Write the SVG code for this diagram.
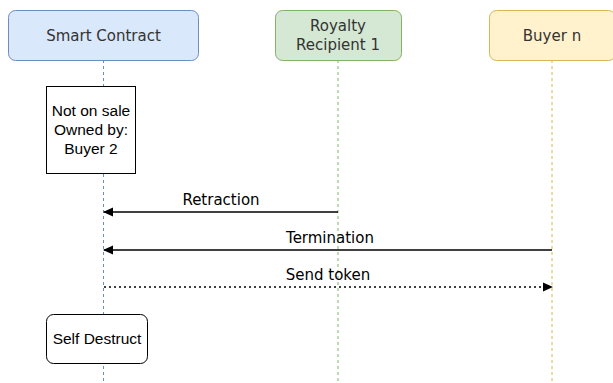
<svg xmlns="http://www.w3.org/2000/svg" width="613" height="383" viewBox="0 0 613 383">
<defs>
<marker id="arr" markerWidth="10" markerHeight="10" refX="9" refY="5" orient="auto" markerUnits="userSpaceOnUse">
<path d="M0,0.5 L10,5 L0,9.5 Z" fill="#000"/>
</marker>
<style>
.hdr{font-family:"DejaVu Sans",Verdana,sans-serif;font-size:15px;fill:#333;text-anchor:middle}
.lbl{font-family:"DejaVu Sans",Verdana,sans-serif;font-size:15px;fill:#000;text-anchor:middle}
.box{font-family:"Liberation Sans",Arial,sans-serif;font-size:15.5px;fill:#000;text-anchor:middle}
.life{stroke-width:1;stroke-dasharray:3 3;fill:none}
.msg{stroke:#000;stroke-width:1.3;fill:none}
</style>
</defs>
<rect width="613" height="383" fill="#fff"/>
<g id="lifelines">
<line class="life" x1="103.5" y1="60" x2="103.5" y2="383" stroke="#6c8ebf"/>
<line class="life" x1="338" y1="60" x2="338" y2="383" stroke="#82b366"/>
<line class="life" x1="552" y1="60" x2="552" y2="383" stroke="#d6b656"/>
</g>
<g id="smart-contract">
<rect x="8.5" y="10.5" width="190" height="50" rx="7" fill="#dae8fc" stroke="#6c8ebf"/>
<text class="hdr" x="103.5" y="41">Smart Contract</text>
</g>
<g id="royalty-recipient">
<rect x="275.5" y="10.5" width="126" height="50" rx="7" fill="#d5e8d4" stroke="#82b366"/>
<text class="hdr" x="338" y="31">Royalty</text>
<text class="hdr" x="338" y="50">Recipient 1</text>
</g>
<g id="buyer-n">
<rect x="489.5" y="10.5" width="126" height="50" rx="7" fill="#fff2cc" stroke="#d6b656"/>
<text class="hdr" x="552" y="41">Buyer n</text>
</g>
<g id="not-on-sale">
<rect x="46.5" y="86.5" width="89" height="87" fill="#fff" stroke="#000"/>
<text class="box" x="91" y="116">Not on sale</text>
<text class="box" x="91" y="135">Owned by:</text>
<text class="box" x="91" y="154">Buyer 2</text>
</g>
<g id="self-destruct">
<rect x="46.5" y="314.5" width="101" height="49" rx="7" fill="#fff" stroke="#000"/>
<text class="box" x="97" y="344">Self Destruct</text>
</g>
<g id="connectors">
<line class="msg" x1="338" y1="212" x2="104" y2="212" marker-end="url(#arr)"/>
<line class="msg" x1="552" y1="250" x2="104" y2="250" marker-end="url(#arr)"/>
<line class="msg" x1="104" y1="287" x2="552" y2="287" stroke-dasharray="2 3" marker-end="url(#arr)"/>
<text class="lbl" x="221" y="205">Retraction</text>
<text class="lbl" x="330" y="243">Termination</text>
<text class="lbl" x="328" y="280">Send token</text>
</g>
</svg>
